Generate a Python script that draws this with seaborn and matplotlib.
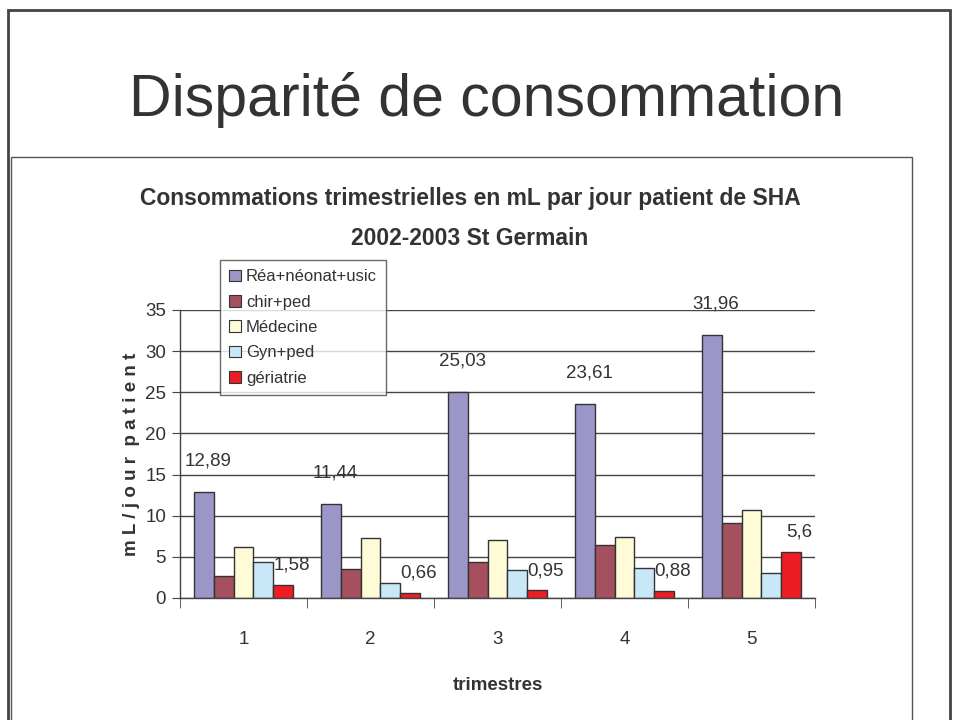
import matplotlib
matplotlib.use("Agg")
import matplotlib.pyplot as plt
from matplotlib.patches import Rectangle
import pandas as pd
import seaborn as sns

# Données
trimestres = ["1", "2", "3", "4", "5"]
services = ["Réa+néonat+usic", "chir+ped", "Médecine", "Gyn+ped", "gériatrie"]
rea = [12.89, 11.44, 25.03, 23.61, 31.96]
chir = [2.7, 3.5, 4.4, 6.4, 9.1]
medecine = [6.25, 7.3, 7.0, 7.4, 10.75]
gyn = [4.35, 1.87, 3.45, 3.7, 3.0]
geriatrie = [1.58, 0.66, 0.95, 0.88, 5.6]
couleurs = ["#9B96C8", "#A4505E", "#FFFBD6", "#C8E8F8", "#EE1C24"]

df = pd.DataFrame({
    "trimestre": trimestres * 5,
    "service": sum([[s] * 5 for s in services], []),
    "valeur": rea + chir + medecine + gyn + geriatrie,
})

sns.set_style("white")
plt.rcParams["font.family"] = ["Liberation Sans", "DejaVu Sans"]
texte = "#333333"

W, H = 954, 720
fig = plt.figure(figsize=(W / 100, H / 100), dpi=100)

# cadres de la diapositive
fig.add_artist(Rectangle((8 / W, -0.1), (942) / W, 1.1 - 10 / H, transform=fig.transFigure,
                         fill=False, edgecolor="#444444", linewidth=2))
fig.add_artist(Rectangle((11 / W, -0.1), (901) / W, 0.1 + 1 - 157 / H, transform=fig.transFigure,
                         fill=False, edgecolor="#555555", linewidth=1))

fig.text(487 / W, 1 - 100 / H, "Disparité de consommation", ha="center", va="center",
         fontsize=42.5, color=texte)
fig.text(470 / W, 1 - 198 / H, "Consommations trimestrielles en mL par jour patient de SHA",
         ha="center", va="center", fontsize=16.5, fontweight="bold", color=texte)
fig.text(470 / W, 1 - 239 / H, "2002-2003 St Germain",
         ha="center", va="center", fontsize=16.5, fontweight="bold", color=texte)

ax = fig.add_axes([180 / W, 1 - 598 / H, 635 / W, 288 / H])
sns.barplot(data=df, x="trimestre", y="valeur", hue="service", order=trimestres,
            hue_order=services, palette=couleurs, width=0.78, gap=0,
            edgecolor="#333333", linewidth=1, saturation=1, ax=ax, legend=True)

ax.set_ylim(0, 35)
ax.set_xlim(-0.5, 4.5)
ax.set_yticks(range(0, 36, 5))
ax.yaxis.grid(True, color="#444444", linewidth=1)
ax.set_axisbelow(True)
for s in ["top", "right"]:
    ax.spines[s].set_visible(False)
for s in ["left", "bottom"]:
    ax.spines[s].set_color("#444444")
    ax.spines[s].set_linewidth(1)
ax.tick_params(axis="y", left=True, length=6, color="#444444", labelsize=13.5, labelcolor=texte, pad=4)
ax.tick_params(axis="x", bottom=False, labelsize=13.5, labelcolor=texte, pad=20)
ax.set_xticks([i - 0.5 for i in range(6)], minor=True)
ax.tick_params(axis="x", which="minor", bottom=True, length=7, color="#444444")

ax.set_xlabel("trimestres", fontsize=13.5, fontweight="bold", color=texte, labelpad=21)
ax.set_ylabel("m L / j o u r  p a t i e n t", fontsize=13.5, fontweight="bold", color=texte, labelpad=4)

# étiquettes de données
def etiquette(v):
    return f"{v:g}".replace(".", ",")

for patch, v in zip(ax.containers[0].patches, rea):
    ax.annotate(etiquette(v), (patch.get_x() + patch.get_width() / 2, v),
                xytext=(3, 16), textcoords="offset points", ha="center", va="bottom",
                fontsize=13.5, color=texte)
for patch, v in zip(ax.containers[4].patches, geriatrie):
    ax.annotate(etiquette(v), (patch.get_x() + patch.get_width() / 2, v),
                xytext=(6, 8), textcoords="offset points", ha="center", va="bottom",
                fontsize=13.5, color=texte)

leg = ax.legend(loc="upper left", bbox_to_anchor=(220 / W, 1 - 260 / H),
                bbox_transform=fig.transFigure, frameon=True, fancybox=False,
                edgecolor="#444444", fontsize=12, handlelength=0.7, handleheight=0.7,
                handletextpad=0.3, labelspacing=0.62, borderpad=0.55, borderaxespad=0)
leg.get_frame().set_linewidth(1)
for t in leg.get_texts():
    t.set_color(texte)
for h in leg.legend_handles:
    h.set_linewidth(0.8)

fig.savefig("out.png", dpi=100)
